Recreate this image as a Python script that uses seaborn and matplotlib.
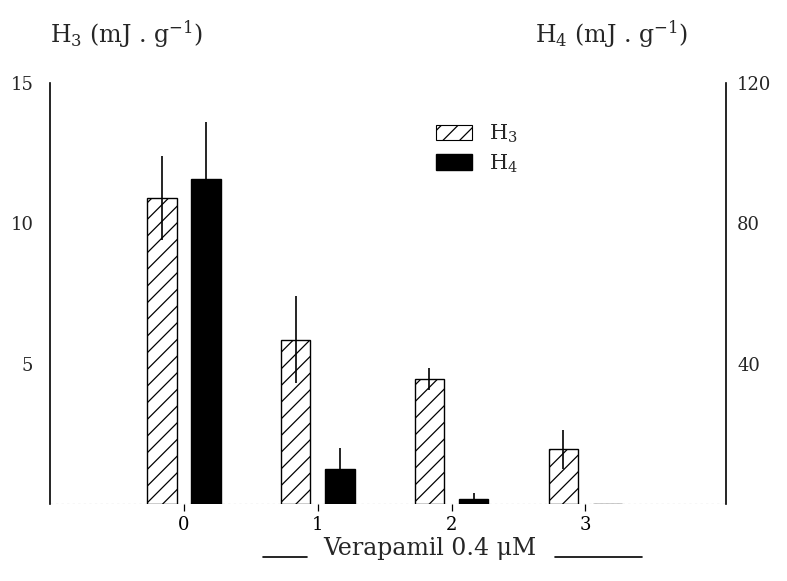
import numpy as np
import pandas as pd
import matplotlib
matplotlib.use("Agg")
import matplotlib.pyplot as plt
from matplotlib.patches import Patch
from matplotlib.lines import Line2D
import seaborn as sns

# Heat components per condition (mean and error)
conditions = [0, 1, 2, 3]
h3_mean = [10.9, 5.85, 4.45, 1.95]      # mJ/g, left axis
h3_err = [1.5, 1.55, 0.4, 0.7]
h4_mean = [92.5, 10.0, 1.5, 0.0]        # mJ/g, right axis
h4_err = [16.5, 6.0, 1.5, 0.0]
left_ticks = [5, 10, 15]
right_ticks = [40, 80, 120]

sns.set_theme(style="white")
plt.rcParams["font.family"] = ["DejaVu Serif"]
plt.rcParams["mathtext.fontset"] = "dejavuserif"
plt.rcParams["hatch.linewidth"] = 0.9

df = pd.DataFrame({
    "cond": conditions * 2,
    "series": ["H3"] * 4 + ["H4"] * 4,
    "H3": h3_mean + [np.nan] * 4,
    "H4": [np.nan] * 4 + h4_mean,
})

fig = plt.figure(figsize=(7.87, 5.81), dpi=100)
ax = fig.add_axes([50 / 787, 1 - 504 / 581, 676 / 787, 421 / 581])
ax2 = ax.twinx()

common = dict(x="cond", hue="series", hue_order=["H3", "H4"], order=conditions,
              width=0.66, gap=0.33, errorbar=None, legend=False, linewidth=1.0)
sns.barplot(data=df, y="H3", ax=ax, palette=["white", "white"],
            edgecolor="black", hatch="//", **common)
sns.barplot(data=df, y="H4", ax=ax2, palette=["black", "black"],
            edgecolor="black", **common)

# error bars through the top of each bar
h3_bars = [p for p in ax.patches if np.isfinite(p.get_height())]
h4_bars = [p for p in ax2.patches if np.isfinite(p.get_height())]
h3_x = [p.get_x() + p.get_width() / 2 for p in h3_bars]
h4_x = [p.get_x() + p.get_width() / 2 for p in h4_bars]
ax.errorbar(h3_x, h3_mean, yerr=h3_err, fmt="none", ecolor="black",
            elinewidth=1.2, capsize=0)
ax2.errorbar(h4_x[:3], h4_mean[:3], yerr=h4_err[:3], fmt="none", ecolor="black",
             elinewidth=1.2, capsize=0)

ax.set_xlim(-1.0, 4.05)
ax.set_ylim(0, 15)
ax2.set_ylim(0, 120)

ax.set_yticks(left_ticks)
ax.set_yticklabels([str(t) for t in left_ticks], fontsize=13)
ax2.set_yticks(right_ticks)
ax2.set_yticklabels([str(t) for t in right_ticks], fontsize=13)
ax.tick_params(axis="y", length=0, pad=12)
ax2.tick_params(axis="y", length=0, pad=8)

ax.set_xticks(conditions)
ax.set_xticklabels([str(c) for c in conditions], fontsize=13)
ax.tick_params(axis="x", bottom=True, direction="out", length=5, width=0.9,
               pad=4, colors="black")
ax.set_xlabel("")
ax.set_ylabel("")
ax2.set_ylabel("")
ax2.set_xlabel("")

for a in (ax, ax2):
    a.spines["top"].set_visible(False)
    a.spines["bottom"].set_visible(False)
    a.grid(False)
ax.spines["right"].set_visible(False)
ax2.spines["left"].set_visible(False)
ax.spines["left"].set_color("black")
ax.spines["left"].set_linewidth(1.2)
ax2.spines["right"].set_color("black")
ax2.spines["right"].set_linewidth(1.2)

# faint dotted baseline
ax.axhline(0, color="0.45", lw=0.8, ls=(0, (2, 3)), zorder=0)

# legend
handles = [Patch(facecolor="white", edgecolor="black", hatch="//", lw=0.8),
           Patch(facecolor="black", edgecolor="black")]
fig.legend(handles, ["H$_3$", "H$_4$"], loc="upper left",
           bbox_to_anchor=(417 / 787, 1 - 104 / 581), frameon=False,
           fontsize=15, handlelength=1.75, handleheight=0.75, labelspacing=0.35,
           handletextpad=0.8)

# axis titles
fig.text(50 / 787, 1 - 34 / 581, "H$_3$ (mJ . g$^{-1}$)", fontsize=17,
         ha="left", va="center")
fig.text(535 / 787, 1 - 34 / 581, "H$_4$ (mJ . g$^{-1}$)", fontsize=17,
         ha="left", va="center")

# treatment label with rules on both sides
fig.text(430 / 787, 1 - 549 / 581, "Verapamil 0.4 μM", fontsize=17,
         ha="center", va="center")
fig.add_artist(Line2D([263 / 787, 307 / 787], [1 - 557 / 581] * 2,
                      color="black", lw=1.2))
fig.add_artist(Line2D([555 / 787, 642 / 787], [1 - 557 / 581] * 2,
                      color="black", lw=1.2))

fig.savefig("out.png", dpi=100, facecolor="white")
